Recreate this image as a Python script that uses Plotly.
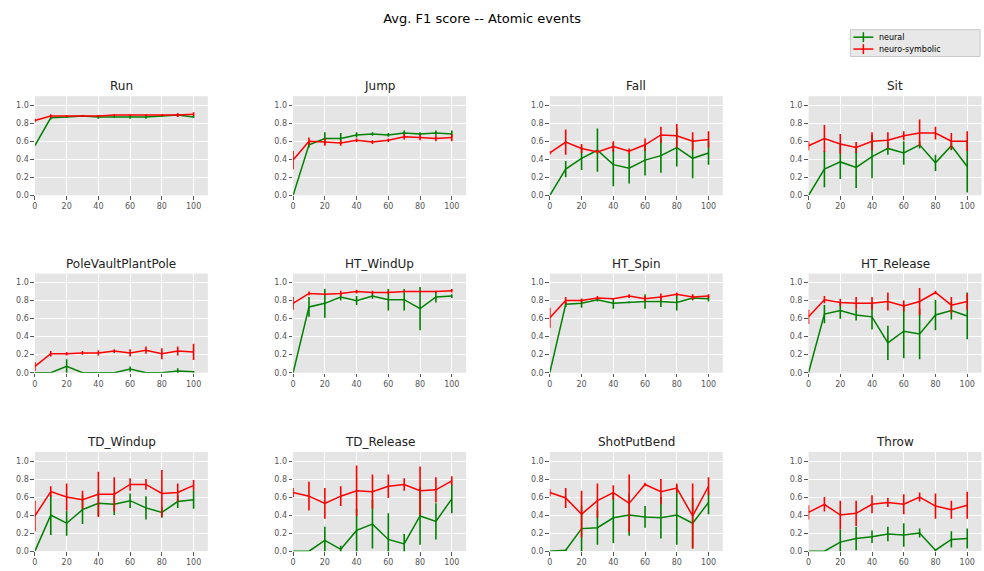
import plotly.graph_objects as go

# Training data percentage (x) for each evaluation step
steps = [0, 10, 20, 30, 40, 50, 60, 70, 80, 90, 100]

events = ["Run", "Jump", "Fall", "Sit",
          "PoleVaultPlantPole", "HT_WindUp", "HT_Spin", "HT_Release",
          "TD_Windup", "TD_Release", "ShotPutBend", "Throw"]

# Mean F1 of the purely neural model, one row per event
neural_mean = [
    [0.55, 0.86, 0.87, 0.88, 0.87, 0.87, 0.87, 0.87, 0.88, 0.89, 0.87],
    [0.00, 0.56, 0.63, 0.63, 0.67, 0.68, 0.67, 0.69, 0.68, 0.69, 0.68],
    [0.00, 0.29, 0.41, 0.50, 0.34, 0.30, 0.39, 0.44, 0.53, 0.41, 0.47],
    [0.00, 0.29, 0.37, 0.31, 0.43, 0.52, 0.47, 0.56, 0.36, 0.55, 0.32],
    [0.00, 0.00, 0.07, 0.00, 0.00, 0.00, 0.04, 0.00, 0.00, 0.02, 0.01],
    [0.00, 0.73, 0.77, 0.84, 0.80, 0.85, 0.81, 0.81, 0.71, 0.84, 0.85],
    [0.00, 0.76, 0.77, 0.81, 0.77, 0.78, 0.79, 0.79, 0.78, 0.83, 0.82],
    [0.00, 0.65, 0.69, 0.64, 0.62, 0.33, 0.46, 0.43, 0.64, 0.69, 0.63],
    [0.00, 0.40, 0.31, 0.46, 0.53, 0.52, 0.56, 0.48, 0.43, 0.55, 0.57],
    [0.00, 0.00, 0.12, 0.02, 0.23, 0.30, 0.13, 0.08, 0.39, 0.33, 0.58],
    [0.00, 0.01, 0.25, 0.26, 0.37, 0.40, 0.38, 0.37, 0.40, 0.31, 0.54],
    [0.00, 0.00, 0.10, 0.14, 0.16, 0.19, 0.18, 0.20, 0.01, 0.13, 0.14],
]

# Standard deviation of the neural F1
neural_err = [
    [0.00, 0.02, 0.01, 0.01, 0.02, 0.01, 0.02, 0.02, 0.01, 0.02, 0.01],
    [0.00, 0.03, 0.07, 0.06, 0.03, 0.02, 0.02, 0.03, 0.02, 0.03, 0.04],
    [0.00, 0.09, 0.13, 0.24, 0.24, 0.17, 0.17, 0.19, 0.21, 0.22, 0.13],
    [0.00, 0.20, 0.19, 0.23, 0.24, 0.07, 0.13, 0.04, 0.09, 0.05, 0.29],
    [0.00, 0.00, 0.08, 0.00, 0.00, 0.00, 0.03, 0.00, 0.00, 0.03, 0.01],
    [0.00, 0.11, 0.16, 0.04, 0.05, 0.03, 0.12, 0.12, 0.24, 0.06, 0.02],
    [0.00, 0.03, 0.05, 0.02, 0.06, 0.01, 0.08, 0.06, 0.09, 0.03, 0.03],
    [0.00, 0.10, 0.09, 0.06, 0.14, 0.19, 0.30, 0.28, 0.17, 0.10, 0.26],
    [0.00, 0.22, 0.14, 0.16, 0.14, 0.12, 0.08, 0.13, 0.06, 0.07, 0.10],
    [0.00, 0.00, 0.15, 0.04, 0.24, 0.27, 0.29, 0.11, 0.32, 0.20, 0.16],
    [0.00, 0.01, 0.25, 0.19, 0.28, 0.23, 0.12, 0.23, 0.33, 0.28, 0.13],
    [0.00, 0.00, 0.14, 0.13, 0.07, 0.08, 0.13, 0.05, 0.01, 0.09, 0.11],
]

# Mean F1 of the neuro-symbolic model
symbolic_mean = [
    [0.83, 0.88, 0.88, 0.88, 0.88, 0.89, 0.89, 0.89, 0.89, 0.89, 0.90],
    [0.39, 0.60, 0.59, 0.58, 0.61, 0.59, 0.61, 0.65, 0.64, 0.63, 0.64],
    [0.47, 0.59, 0.52, 0.48, 0.54, 0.49, 0.56, 0.67, 0.66, 0.60, 0.62],
    [0.55, 0.63, 0.57, 0.53, 0.60, 0.61, 0.66, 0.69, 0.69, 0.60, 0.60],
    [0.07, 0.21, 0.21, 0.22, 0.22, 0.24, 0.22, 0.25, 0.21, 0.24, 0.23],
    [0.77, 0.88, 0.87, 0.88, 0.90, 0.89, 0.89, 0.90, 0.90, 0.90, 0.91],
    [0.61, 0.80, 0.80, 0.83, 0.82, 0.85, 0.82, 0.84, 0.87, 0.84, 0.85],
    [0.62, 0.81, 0.78, 0.77, 0.77, 0.79, 0.74, 0.79, 0.89, 0.75, 0.79],
    [0.39, 0.66, 0.60, 0.57, 0.63, 0.63, 0.74, 0.74, 0.64, 0.65, 0.73],
    [0.65, 0.61, 0.53, 0.61, 0.67, 0.66, 0.72, 0.74, 0.67, 0.68, 0.78],
    [0.65, 0.59, 0.41, 0.56, 0.65, 0.53, 0.74, 0.66, 0.70, 0.39, 0.72],
    [0.43, 0.52, 0.40, 0.42, 0.52, 0.54, 0.52, 0.60, 0.50, 0.46, 0.51],
]

# Standard deviation of the neuro-symbolic F1
symbolic_err = [
    [0.02, 0.02, 0.01, 0.01, 0.01, 0.01, 0.01, 0.01, 0.01, 0.02, 0.02],
    [0.10, 0.04, 0.04, 0.03, 0.02, 0.02, 0.02, 0.03, 0.03, 0.03, 0.04],
    [0.02, 0.14, 0.05, 0.02, 0.06, 0.03, 0.07, 0.09, 0.13, 0.10, 0.09],
    [0.05, 0.15, 0.11, 0.06, 0.10, 0.09, 0.05, 0.15, 0.07, 0.09, 0.11],
    [0.05, 0.03, 0.02, 0.02, 0.03, 0.02, 0.04, 0.04, 0.06, 0.05, 0.09],
    [0.07, 0.02, 0.01, 0.03, 0.02, 0.02, 0.02, 0.01, 0.01, 0.01, 0.02],
    [0.11, 0.04, 0.02, 0.02, 0.01, 0.02, 0.03, 0.04, 0.02, 0.03, 0.02],
    [0.08, 0.04, 0.04, 0.07, 0.07, 0.10, 0.06, 0.15, 0.02, 0.09, 0.09],
    [0.17, 0.06, 0.15, 0.10, 0.25, 0.19, 0.07, 0.06, 0.26, 0.10, 0.06],
    [0.05, 0.16, 0.17, 0.11, 0.28, 0.19, 0.13, 0.07, 0.27, 0.14, 0.05],
    [0.04, 0.11, 0.26, 0.19, 0.08, 0.32, 0.02, 0.14, 0.05, 0.36, 0.10],
    [0.08, 0.08, 0.16, 0.14, 0.10, 0.05, 0.11, 0.05, 0.14, 0.10, 0.15],
]

series_names = ["neural", "neuro-symbolic"]

W, H = 984, 571
FONT = "DejaVu Sans"
GREEN = "#008000"
RED = "#FF0000"
series_colors = [GREEN, RED]

# Panel geometry in pixels
col_left = [32, 291, 548.5, 808]
row_top = [97, 276, 456]
panel_w, panel_h = 173.5, 100


def px_x(v):
    return v / W


def px_y(v):
    return 1 - v / H


fig = go.Figure()
layout_axes = {}
annotations = []
shapes = []

for i, name in enumerate(events):
    r, c = divmod(i, 4)
    n = i + 1
    xa = "x" if n == 1 else f"x{n}"
    ya = "y" if n == 1 else f"y{n}"
    x0 = px_x(col_left[c])
    x1 = px_x(col_left[c] + panel_w)
    y1 = px_y(row_top[r])
    y0 = px_y(row_top[r] + panel_h)

    for mean, err, color, label in ((neural_mean[i], neural_err[i], GREEN, series_names[0]),
                                    (symbolic_mean[i], symbolic_err[i], RED, series_names[1])):
        fig.add_trace(go.Scatter(
            x=steps, y=mean, mode="lines", xaxis=xa, yaxis=ya, name=label,
            line=dict(color=color, width=1.5), showlegend=False,
            error_y=dict(type="data", array=err, visible=True,
                         color=color, thickness=1.6, width=0),
        ))

    axis_common = dict(
        showgrid=True, gridcolor="white", gridwidth=1,
        zeroline=False, showline=False,
        ticks="outside", ticklen=3.5, tickwidth=1, tickcolor="#555555",
        tickfont=dict(family=FONT, size=8, color="#555555"),
        fixedrange=True,
    )
    layout_axes["xaxis" if n == 1 else f"xaxis{n}"] = dict(
        axis_common, domain=[x0, x1], range=[0, 109],
        tickvals=[0, 20, 40, 60, 80, 100], anchor=ya,
    )
    layout_axes["yaxis" if n == 1 else f"yaxis{n}"] = dict(
        axis_common, domain=[y0, y1], range=[0, 1.1],
        tickvals=[0, 0.2, 0.4, 0.6, 0.8, 1.0], tickformat=".1f", anchor=xa,
    )
    annotations.append(dict(
        text=name, xref="paper", yref="paper",
        x=(x0 + x1) / 2, y=px_y(row_top[r] - 10), xanchor="center", yanchor="middle",
        showarrow=False, font=dict(family=FONT, size=12, color="#222222"),
    ))

# Legend box in the upper right corner
shapes.append(dict(type="rect", xref="paper", yref="paper",
                   x0=px_x(850), x1=px_x(980), y0=px_y(57), y1=px_y(30),
                   fillcolor="#E8E8E8", line=dict(color="#C8C8C8", width=1)))
for k, (label, color) in enumerate(zip(series_names, series_colors)):
    cy = 37.5 + 12 * k
    shapes.append(dict(type="line", xref="paper", yref="paper",
                       x0=px_x(853), x1=px_x(873), y0=px_y(cy), y1=px_y(cy),
                       line=dict(color=color, width=1.5)))
    shapes.append(dict(type="line", xref="paper", yref="paper",
                       x0=px_x(863), x1=px_x(863), y0=px_y(cy - 5), y1=px_y(cy + 5),
                       line=dict(color=color, width=1.5)))
    annotations.append(dict(
        text=label, xref="paper", yref="paper", x=px_x(877), y=px_y(cy),
        xanchor="left", yanchor="middle", showarrow=False,
        font=dict(family=FONT, size=8, color="black"),
    ))

fig.update_layout(
    width=W, height=H,
    margin=dict(l=0, r=0, t=0, b=0),
    paper_bgcolor="white", plot_bgcolor="#E5E5E5",
    font=dict(family=FONT),
    showlegend=False,
    title=dict(text="Avg. F1 score -- Atomic events", x=0.49, y=px_y(18),
               xanchor="center", yanchor="middle",
               font=dict(family=FONT, size=13, color="black")),
    annotations=annotations,
    shapes=shapes,
    **layout_axes,
)

fig.write_html("out.html")
